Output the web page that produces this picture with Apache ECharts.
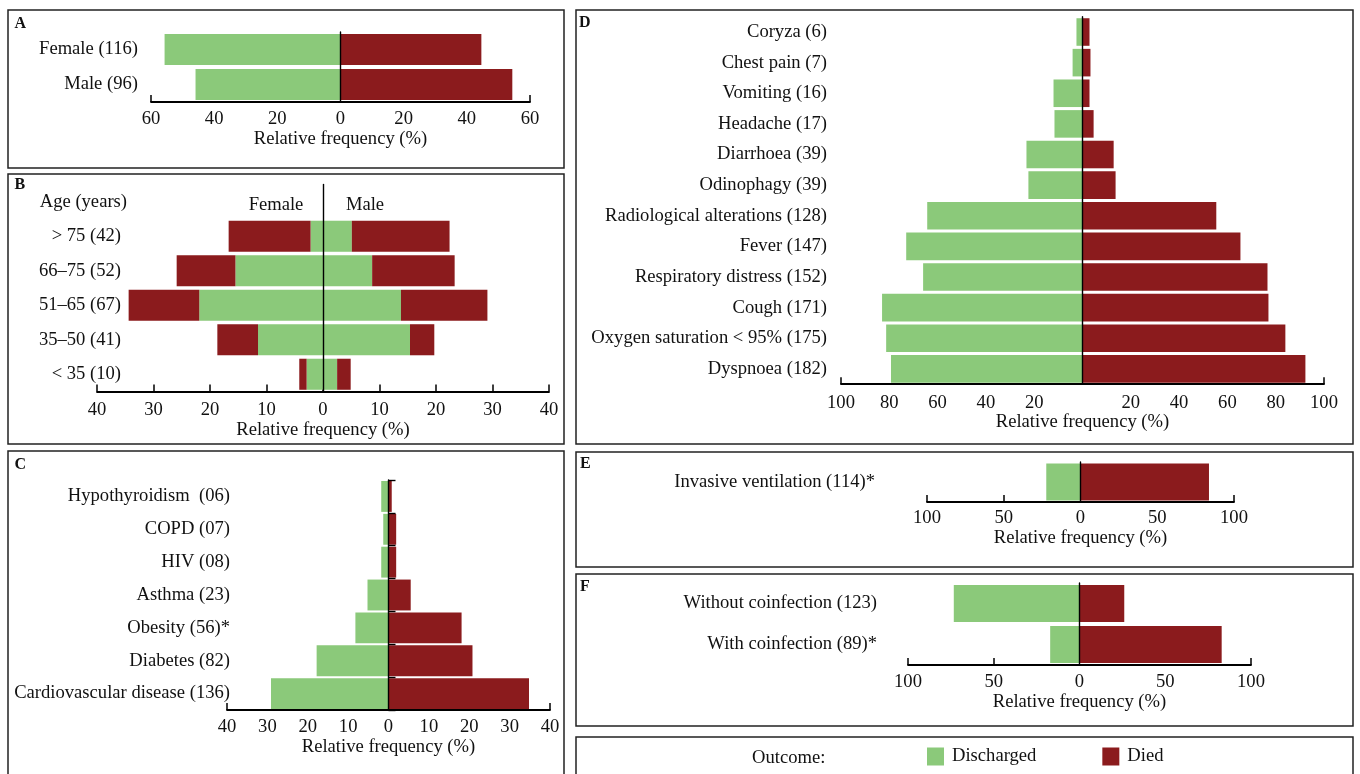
<!DOCTYPE html>
<html><head><meta charset="utf-8">
<script src="https://cdn.jsdelivr.net/npm/echarts@6/dist/echarts.min.js"></script>
<style>html,body{margin:0;padding:0;background:#fff}#c{width:1360px;height:774px}</style>
</head><body><div id="c"></div>
<script>
// ---------- data ----------
// Panel A
const aCats = ['Female (116)', 'Male (96)'];
const aDischarged = [55.7, 45.9];
const aDied = [44.6, 54.4];
// Panel B (header row first, then age groups)
const bCats = ['Age (years)', '> 75 (42)', '66–75 (52)', '51–65 (67)', '35–50 (41)', '< 35 (10)'];
const bFemaleDischarged = [null, 2.2, 15.5, 21.9, 11.5, 2.9];
const bFemaleDied = [null, 14.5, 10.4, 12.5, 7.2, 1.3];
const bMaleDischarged = [null, 5.1, 8.7, 13.8, 15.4, 2.5];
const bMaleDied = [null, 17.3, 14.6, 15.3, 4.3, 2.4];
// Panel C
const cCats = ['Hypothyroidism  (06)', 'COPD (07)', 'HIV (08)', 'Asthma (23)', 'Obesity (56)*', 'Diabetes (82)', 'Cardiovascular disease (136)'];
const cDischarged = [1.8, 1.3, 1.8, 5.2, 8.2, 17.8, 29.1];
const cDied = [0.8, 1.9, 1.9, 5.5, 18.1, 20.8, 34.8];
// Panel D
const dCats = ['Coryza (6)', 'Chest pain (7)', 'Vomiting (16)', 'Headache (17)', 'Diarrhoea (39)', 'Odinophagy (39)', 'Radiological alterations (128)', 'Fever (147)', 'Respiratory distress (152)', 'Cough (171)', 'Oxygen saturation < 95% (175)', 'Dyspnoea (182)'];
const dDischarged = [2.5, 4.1, 12.0, 11.6, 23.2, 22.4, 64.3, 73.0, 66.0, 83.0, 81.3, 79.3];
const dDied = [2.9, 3.3, 2.9, 4.6, 12.9, 13.7, 55.4, 65.4, 76.6, 77.0, 84.0, 92.3];
// Panel E
const eCats = ['Invasive ventilation (114)*'];
const eDischarged = [22.3];
const eDied = [83.7];
// Panel F
const fCats = ['Without coinfection (123)', 'With coinfection (89)*'];
const fDischarged = [73.3, 17.1];
const fDied = [26.1, 82.9];
// axis ranges / tick labels
const aRange = [-60, 60, 20];
const bRange = [-40, 40, 10];
const cRange = [-40, 40, 10];
const dRange = [-100, 100, 20];
const eRange = [-100, 100, 50];
const fRange = [-100, 100, 50];
const axisTitle = 'Relative frequency (%)';
const legendNames = ['Discharged', 'Died'];

// ---------- styling ----------
const GREEN = '#8bc97a', RED = '#8b1b1d';
const FONT = '"Liberation Serif", "Times New Roman", serif';
const FS = 18.6;
const TXT = '#111';
const neg = arr => arr.map(v => v == null ? null : -v);

const grids = [
  {left: 151, top: 32, width: 379, height: 70},      // A
  {left: 97, top: 184.5, width: 452, height: 207},   // B
  {left: 227, top: 480, width: 323, height: 230},    // C
  {left: 841, top: 16.7, width: 483, height: 367.5}, // D
  {left: 927, top: 462, width: 307, height: 40},     // E
  {left: 908, top: 583, width: 343, height: 82}      // F
];

function xAx(gi, r, tickVals, margin, nameGap, hideZero) {
  const o = {
    gridIndex: gi, type: 'value', min: r[0], max: r[1], interval: r[2],
    splitLine: {show: false},
    axisLine: {show: true, onZero: false, lineStyle: {color: '#000', width: 1.8}},
    axisTick: {show: true, inside: true, length: 7, lineStyle: {color: '#000', width: 1.5}},
    axisLabel: {
      show: true, margin: margin, color: TXT, fontFamily: FONT, fontSize: FS,
      showMinLabel: true, showMaxLabel: true,
      formatter: v => (hideZero && v === 0) ? '' : String(Math.abs(v))
    },
    name: axisTitle, nameLocation: 'middle', nameGap: nameGap,
    nameTextStyle: {color: TXT, fontFamily: FONT, fontSize: FS}
  };
  if (tickVals) o.axisTick.customValues = tickVals;
  return o;
}
function yLab(gi, cats, margin, formatter, rich) {
  return {
    gridIndex: gi, type: 'category', data: cats, inverse: true, position: 'left',
    axisLine: {show: false, onZero: false}, axisTick: {show: false}, splitLine: {show: false},
    axisLabel: {show: true, margin: margin, color: TXT, fontFamily: FONT, fontSize: FS,
      interval: 0, formatter: formatter, rich: rich}
  };
}
function yZero(gi, cats, ticks) {
  return {
    gridIndex: gi, type: 'category', data: cats, inverse: true, position: 'right', z: 6,
    axisLine: {show: true, onZero: true, lineStyle: {color: '#000', width: 1.4}},
    axisTick: {show: !!ticks, length: 7, lineStyle: {color: '#000', width: 1.4}},
    axisLabel: {show: false}, splitLine: {show: false}
  };
}
function pair(gi, yi, dis, died, gap, stack) {
  return [
    {name: legendNames[0], type: 'bar', xAxisIndex: gi, yAxisIndex: yi, stack: stack,
     data: neg(dis), itemStyle: {color: GREEN}, barCategoryGap: gap, silent: true},
    {name: legendNames[1], type: 'bar', xAxisIndex: gi, yAxisIndex: yi, stack: stack,
     data: died, itemStyle: {color: RED}, barCategoryGap: gap, silent: true}
  ];
}

const xAxes = [
  xAx(0, aRange, [-60, 60], 8, 28),
  xAx(1, bRange, null, 9, 29),
  xAx(2, cRange, [-40, 40], 8, 28),
  xAx(3, dRange, [-100, 100], 9, 27, true),
  xAx(4, eRange, [-100, -50, 100], 7, 27),
  xAx(5, fRange, [-100, -50, 100], 8, 28)
];
const richP = {p: {padding: [0, 6, 0, 0], color: TXT, fontFamily: FONT, fontSize: FS}};
const yAxes = [
  yLab(0, aCats, 13), yZero(0, aCats),
  yLab(1, bCats, -30, (v, i) => i === 0 ? v : '{p|' + v + '}', richP), yZero(1, bCats),
  yLab(2, cCats, -3), yZero(2, cCats, true),
  yLab(3, dCats, 14), yZero(3, dCats),
  yLab(4, eCats, 52), yZero(4, eCats),
  yLab(5, fCats, 31), yZero(5, fCats)
];

const series = [].concat(
  pair(0, 0, aDischarged, aDied, '11%', 'a'),
  [
    {name: legendNames[0], type: 'bar', xAxisIndex: 1, yAxisIndex: 2, stack: 'b', data: neg(bFemaleDischarged), itemStyle: {color: GREEN}, barCategoryGap: '10%', silent: true},
    {name: legendNames[1], type: 'bar', xAxisIndex: 1, yAxisIndex: 2, stack: 'b', data: neg(bFemaleDied), itemStyle: {color: RED}, barCategoryGap: '10%', silent: true},
    {name: legendNames[0], type: 'bar', xAxisIndex: 1, yAxisIndex: 2, stack: 'b', data: bMaleDischarged, itemStyle: {color: GREEN}, barCategoryGap: '10%', silent: true},
    {name: legendNames[1], type: 'bar', xAxisIndex: 1, yAxisIndex: 2, stack: 'b', data: bMaleDied, itemStyle: {color: RED}, barCategoryGap: '10%', silent: true}
  ],
  pair(2, 4, cDischarged, cDied, '6%', 'c'),
  pair(3, 6, dDischarged, dDied, '10%', 'd'),
  pair(4, 8, eDischarged, eDied, '7%', 'e'),
  pair(5, 10, fDischarged, fDied, '10%', 'f')
);

function t(text, left, top, size, bold, align) {
  return {text: text, left: left, top: top, padding: 0, textAlign: align || 'left',
    textStyle: {color: TXT, fontFamily: FONT, fontSize: size, fontWeight: bold ? 'bold' : 'normal'}};
}
const titles = [
  t('A', 14.5, 15.7, 16, true), t('B', 14.5, 177.3, 16, true), t('C', 14.5, 456.7, 16, true),
  t('D', 579, 15.3, 16, true), t('E', 580, 456, 16, true), t('F', 580, 579.2, 16, true),
  t('Female', 276, 196, FS, false, 'center'), t('Male', 365, 196, FS, false, 'center'),
  t('Outcome:', 752, 749, FS, false)
];

function box(x, y, w, h) {
  return {type: 'rect', shape: {x: x, y: y, width: w, height: h}, silent: true, z: 100,
    style: {fill: 'none', stroke: '#222', lineWidth: 1.5}};
}
const graphics = [
  box(8, 10, 556, 158), box(8, 174, 556, 270), box(8, 451, 556, 340),
  box(576, 10, 777, 434), box(576, 452, 777, 115), box(576, 574, 777, 152), box(576, 737, 777, 60)
];

const chart = echarts.init(document.getElementById('c'), null, {renderer: 'canvas'});
chart.setOption({
  animation: false,
  backgroundColor: '#fff',
  title: titles,
  legend: {
    data: legendNames, left: 927, top: 747, padding: 0, itemWidth: 17, itemHeight: 18, itemGap: 66,
    icon: 'rect', selectedMode: false,
    textStyle: {color: TXT, fontFamily: FONT, fontSize: FS, padding: [0, 0, 0, 3]}
  },
  grid: grids,
  xAxis: xAxes,
  yAxis: yAxes,
  series: series,
  graphic: graphics
});
</script></body></html>
